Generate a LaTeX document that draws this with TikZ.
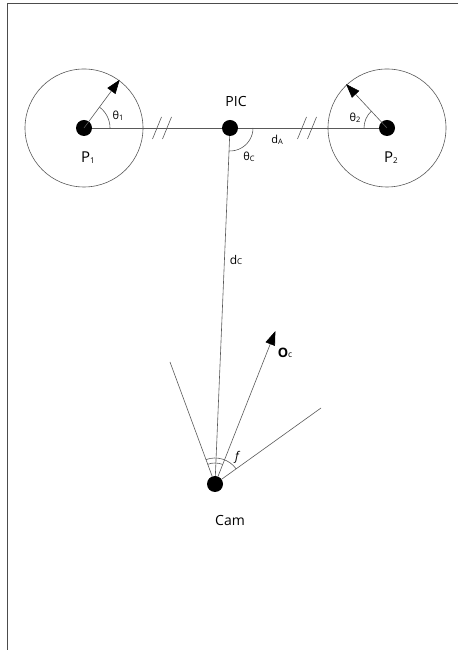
\documentclass[tikz,border=0pt]{standalone}
\usepackage{fontspec}
\setmainfont{Open Sans}
\usetikzlibrary{arrows.meta,calc}
\begin{document}
\begin{tikzpicture}[x=1pt,y=1pt,
  thin line/.style={draw=black!65, line width=0.6pt},
  dot/.style={circle, fill=black, inner sep=0pt, minimum size=16pt},
  bigarrow/.style={thin line, -{Triangle[length=14pt,width=10pt,color=black,fill=black]}, shorten >=-1pt},
  lbl/.style={inner sep=0pt, font=\fontsize{14}{16}\selectfont},
  smalllbl/.style={inner sep=0pt, font=\fontsize{11}{13}\selectfont}]
\useasboundingbox (0,0) rectangle (458,650);
% border
\coordinate (btl) at (7,646);
\coordinate (btr) at (458,646);
\coordinate (bbl) at (7,0);
\draw[draw=black!70, line width=1pt] (btr) -- (btl) -- (bbl);
% circles
\node[circle, thin line, minimum size=118pt, inner sep=0pt] (c1) at (84,522) {};
\node[circle, thin line, minimum size=118pt, inner sep=0pt] (c2) at (387,522) {};
% dots
\node[dot] (p1) at (84,522) {};
\node[dot] (pic) at (230,522) {};
\node[dot] (p2) at (387,522) {};
\node[dot] (cam) at (215,166) {};
% baseline
\draw[thin line] (p1) -- (pic) -- (p2);
% hash marks
\foreach \x in {157,167,302,312}{
  \draw[thin line] (\x-4.5,511) -- (\x+4.5,533);
}
% arrows in circles
\draw[bigarrow] (p1.center) -- ++(53.5:59) coordinate (a1);
\draw[bigarrow] (p2.center) -- ++(133:59) coordinate (a2);
\draw[thin line] ($(p1.center)+(26,0)$) arc (0:53.5:26);
\draw[thin line] ($(p2.center)+(-23,0)$) arc (180:133:23);
% PIC to cam
\draw[thin line] (pic) -- (cam);
\draw[thin line] ($(pic.center)+(23,0)$) arc (0:-92.4:23);
% camera lines
\coordinate (lend) at (170,288);
\coordinate (rend) at (321,242);
\draw[thin line] (cam) -- (lend);
\draw[thin line] (cam) -- (rend);
\draw[bigarrow] (cam) -- (275,318) coordinate (oc);
\draw[thin line] ($(cam.center)+(35.6:26)$) arc (35.6:110.2:26);
\draw[thin line] ($(cam.center)+(68.5:21)$) arc (68.5:110.2:21);
% labels
\node[lbl, font=\fontsize{15}{17}\selectfont] (lp1) at (88,492) {P\raisebox{-1pt}{\fontsize{8}{9}\selectfont 1}};
\node[lbl, font=\fontsize{15}{17}\selectfont] (lp2) at (391,492) {P\raisebox{-1pt}{\fontsize{8}{9}\selectfont 2}};
\node[lbl] (lpic) at (236,548) {PIC};
\node[lbl] (lcam) at (230,129) {Cam};
\node[smalllbl] (lt1) at (118,534) {θ\raisebox{-0.5pt}{\fontsize{7.5}{8}\selectfont 1}};
\node[smalllbl] (lt2) at (355,532) {θ\raisebox{-0.5pt}{\fontsize{7.5}{8}\selectfont 2}};
\node[smalllbl] (ltc) at (249,493) {θ\raisebox{-0.5pt}{\fontsize{7.5}{8}\selectfont C}};
\node[smalllbl] (lda) at (277,510) {d\raisebox{-0.5pt}{\fontsize{7.5}{8}\selectfont A}};
\node[smalllbl, font=\fontsize{12}{14}\selectfont] (ldc) at (236,390) {d\raisebox{-0.5pt}{\fontsize{8}{9}\selectfont C}};
\node[lbl, font=\fontsize{13}{15}\selectfont\bfseries] (loc) at (285,297) {O\raisebox{-0.5pt}{\fontsize{8.5}{9}\selectfont\mdseries c}};
\node[smalllbl, font=\fontsize{12}{14}\selectfont\itshape] (lf) at (237,193) {f};
\end{tikzpicture}
\end{document}
